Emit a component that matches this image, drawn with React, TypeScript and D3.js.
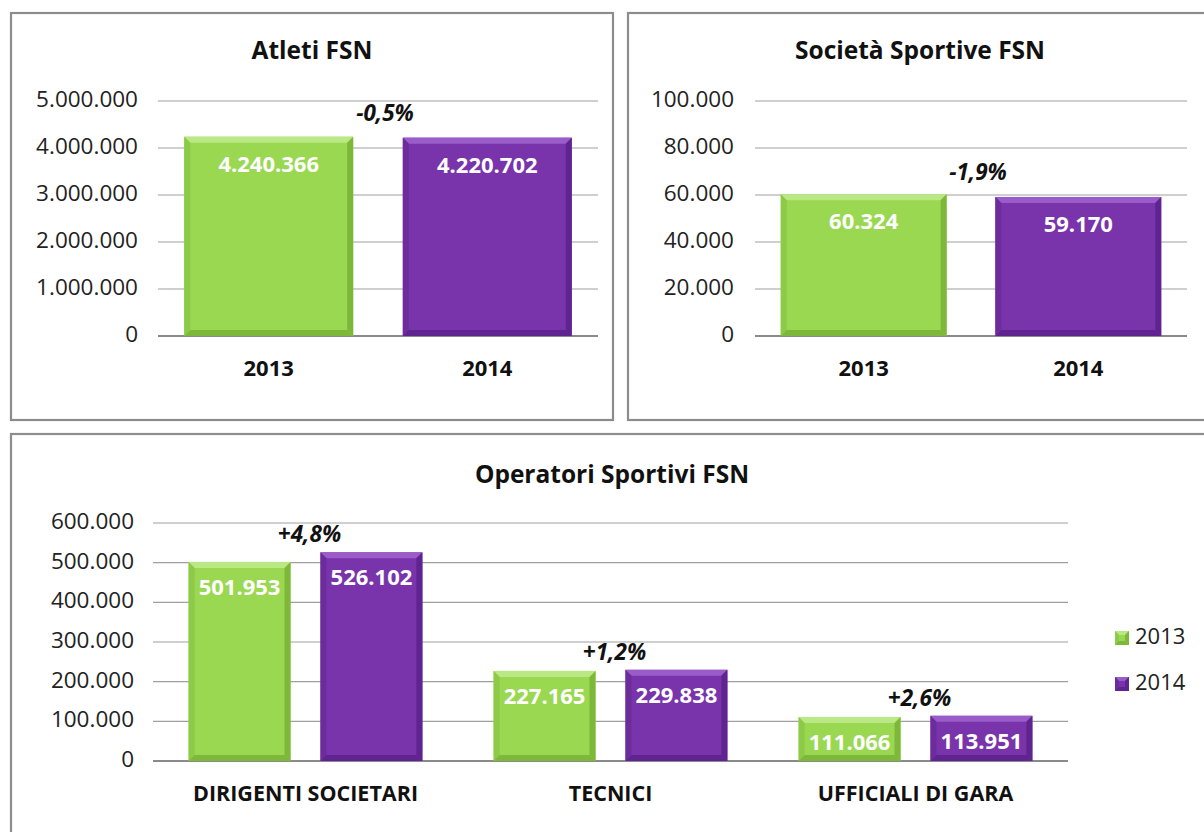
import React from "react";
import * as d3 from "d3";

const years = ["2013", "2014"];
const atletiValues = [4240366, 4220702];
const atletiTicks = [0, 1000000, 2000000, 3000000, 4000000, 5000000];
const atletiChange = "-0,5%";
const societaValues = [60324, 59170];
const societaTicks = [0, 20000, 40000, 60000, 80000, 100000];
const societaChange = "-1,9%";
const operatoriCategories = ["DIRIGENTI SOCIETARI", "TECNICI", "UFFICIALI DI GARA"];
const operatori2013 = [501953, 227165, 111066];
const operatori2014 = [526102, 229838, 113951];
const operatoriChange = ["+4,8%", "+1,2%", "+2,6%"];
const operatoriTicks = [0, 100000, 200000, 300000, 400000, 500000, 600000];

const itLocale = d3.formatLocale({ decimal: ",", thousands: ".", grouping: [3], currency: ["€", ""] });
const fmt = itLocale.format(",d");

const FONT = "'Open Sans', sans-serif";
const GREEN = { base: "#9ad852", light: "#b9e884", dark: "#7db83a", side: "#8dca47" };
const PURPLE = { base: "#7934ab", light: "#9a5cc8", dark: "#5f2490", side: "#6d2c9c" };

type Pal = typeof GREEN;

function BevelBar({ x, y, w, h, pal, bevel = 6 }: { x: number; y: number; w: number; h: number; pal: Pal; bevel?: number }) {
  const b = Math.min(bevel, h / 2);
  return (
    <g>
      <rect x={x} y={y} width={w} height={h} fill={pal.base} />
      <polygon points={`${x},${y} ${x + w},${y} ${x + w - b},${y + b} ${x + b},${y + b}`} fill={pal.light} />
      <polygon points={`${x},${y} ${x + b},${y + b} ${x + b},${y + h - b} ${x},${y + h}`} fill={pal.side} />
      <polygon points={`${x + w},${y} ${x + w},${y + h} ${x + w - b},${y + h - b} ${x + w - b},${y + b}`} fill={pal.dark} />
      <polygon points={`${x},${y + h} ${x + b},${y + h - b} ${x + w - b},${y + h - b} ${x + w},${y + h}`} fill={pal.dark} />
    </g>
  );
}

function YAxis({ y, ticks, x0, x1, labelX }: { y: d3.ScaleLinear<number, number>; ticks: number[]; x0: number; x1: number; labelX: number }) {
  return (
    <g>
      {ticks.map((t) => (
        <g key={t}>
          <line x1={x0} x2={x1} y1={y(t)} y2={y(t)} stroke={t === 0 ? "#8a8a8a" : "#a0a0a0"} strokeWidth={t === 0 ? 2 : 1.2} />
          <text x={labelX} y={y(t)} textAnchor="end" dominantBaseline="middle" fontSize={22.5} fill="#222" fontFamily={FONT}>
            {fmt(t)}
          </text>
        </g>
      ))}
    </g>
  );
}

function TopChart({ title, titleX, values, ticks, change, x0, x1, labelX }: {
  title: string; titleX: number; values: number[]; ticks: number[]; change: string; x0: number; x1: number; labelX: number;
}) {
  const y = d3.scaleLinear().domain([0, ticks[ticks.length - 1]]).range([336, 101]);
  const xb = d3.scaleBand().domain(years).range([x0, x1]).paddingInner(0.227).paddingOuter(0.12);
  const pals = [GREEN, PURPLE];
  const gapX = ((xb(years[0]) as number) + xb.bandwidth() + (xb(years[1]) as number)) / 2;
  return (
    <g>
      <text x={titleX} y={52} textAnchor="middle" dominantBaseline="middle" fontSize={24.5} fontWeight="bold" fill="#111" fontFamily={FONT}>{title}</text>
      <YAxis y={y} ticks={ticks} x0={x0} x1={x1} labelX={labelX} />
      {values.map((v, i) => {
        const bx = xb(years[i]) as number;
        return (
          <g key={i}>
            <BevelBar x={bx} y={y(v)} w={xb.bandwidth()} h={y(0) - y(v)} pal={pals[i]} />
            <text x={bx + xb.bandwidth() / 2} y={y(v) + 29} textAnchor="middle" dominantBaseline="middle" fontSize={22} fontWeight="bold" fill="#fff" fontFamily={FONT}>{fmt(v)}</text>
            <text x={bx + xb.bandwidth() / 2} y={370} textAnchor="middle" dominantBaseline="middle" fontSize={22} fontWeight="bold" fill="#111" fontFamily={FONT}>{years[i]}</text>
          </g>
        );
      })}
      <text x={gapX + 7} y={y(values[1]) - 23} textAnchor="middle" dominantBaseline="middle" fontSize={22.5} fontWeight="bold" fontStyle="italic" fill="#111" fontFamily={FONT}>{change}</text>
    </g>
  );
}

function BottomChart() {
  const x0 = 153, x1 = 1068;
  const y = d3.scaleLinear().domain([0, 600000]).range([761, 523]);
  const xc = d3.scaleBand().domain(operatoriCategories).range([x0, x1]);
  const xs = d3.scaleBand().domain(years).range([0, xc.bandwidth()]).paddingInner(0.227).paddingOuter(0.27);
  const series = [operatori2013, operatori2014];
  const pals = [GREEN, PURPLE];
  return (
    <g>
      <text x={612} y={476} textAnchor="middle" dominantBaseline="middle" fontSize={24.5} fontWeight="bold" fill="#111" fontFamily={FONT}>Operatori Sportivi FSN</text>
      <YAxis y={y} ticks={operatoriTicks} x0={x0} x1={x1} labelX={134} />
      {operatoriCategories.map((c, ci) => {
        const cx = xc(c) as number;
        const gapX = cx + ((xs(years[0]) as number) + xs.bandwidth() + (xs(years[1]) as number)) / 2;
        return (
          <g key={c}>
            {series.map((s, si) => {
              const bx = cx + (xs(years[si]) as number);
              const v = s[ci];
              return (
                <g key={si}>
                  <BevelBar x={bx} y={y(v)} w={xs.bandwidth()} h={y(0) - y(v)} pal={pals[si]} />
                  <text x={bx + xs.bandwidth() / 2} y={y(v) + 27} textAnchor="middle" dominantBaseline="middle" fontSize={22} fontWeight="bold" fill="#fff" fontFamily={FONT}>{fmt(v)}</text>
                </g>
              );
            })}
            <text x={gapX + 4} y={y(operatori2014[ci]) - 16} textAnchor="middle" dominantBaseline="middle" fontSize={22.5} fontWeight="bold" fontStyle="italic" fill="#111" fontFamily={FONT}>{operatoriChange[ci]}</text>
            <text x={cx + xc.bandwidth() / 2} y={795} textAnchor="middle" dominantBaseline="middle" fontSize={21.5} fontWeight="bold" fill="#111" fontFamily={FONT}>{c}</text>
          </g>
        );
      })}
      {years.map((yr, i) => (
        <g key={yr} transform={`translate(1115, ${638 + i * 46})`}>
          <BevelBar x={0} y={-7} w={14} h={14} pal={pals[i]} bevel={4} />
          <text x={20} y={0} dominantBaseline="middle" fontSize={22} fill="#222" fontFamily={FONT}>{yr}</text>
        </g>
      ))}
    </g>
  );
}

export default function App() {
  return (
    <svg width={1204} height={832} style={{ position: "absolute", left: 0, top: 0, background: "#fff" }}>
      <rect x={0} y={0} width={1204} height={832} fill="#fff" />
      <rect x={11} y={13} width={602} height={407} fill="none" stroke="#8c8c8c" strokeWidth={2.2} />
      <rect x={628} y={13} width={600} height={407} fill="none" stroke="#8c8c8c" strokeWidth={2.2} />
      <rect x={11} y={434} width={1220} height={420} fill="none" stroke="#8c8c8c" strokeWidth={2.2} />
      <TopChart title="Atleti FSN" titleX={312} values={atletiValues} ticks={atletiTicks} change={atletiChange} x0={158} x1={598} labelX={138} />
      <TopChart title="Società Sportive FSN" titleX={920} values={societaValues} ticks={societaTicks} change={societaChange} x0={755} x1={1187} labelX={734} />
      <BottomChart />
    </svg>
  );
}
